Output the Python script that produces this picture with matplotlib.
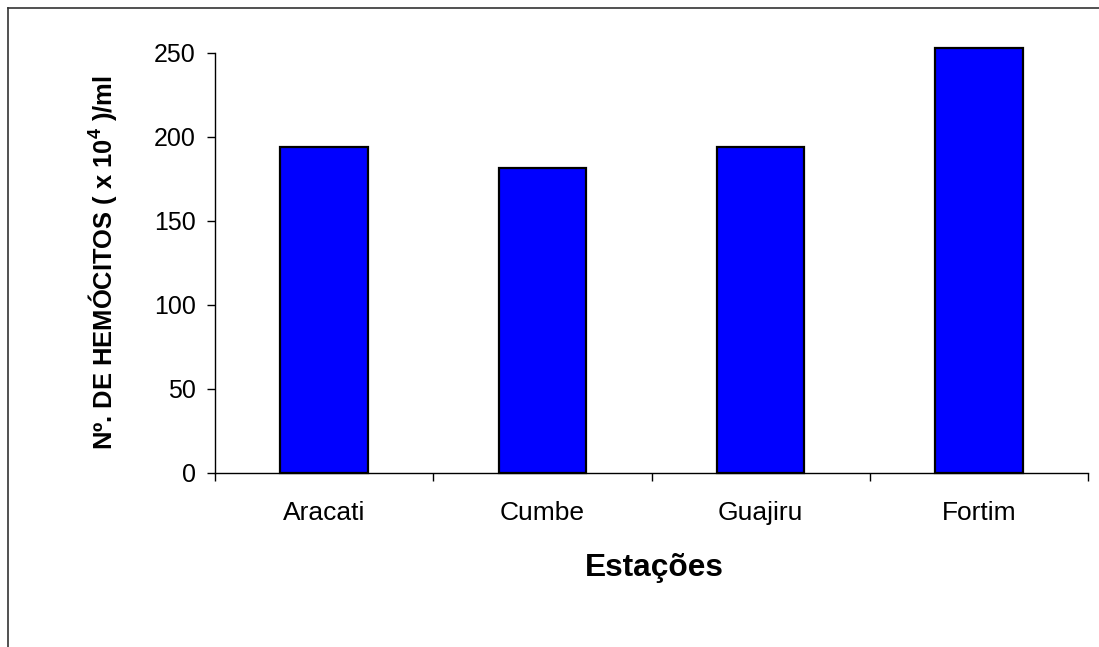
import matplotlib.pyplot as plt
from matplotlib.lines import Line2D

plt.rcParams['font.family'] = ['Liberation Sans', 'DejaVu Sans']
plt.rcParams['mathtext.fontset'] = 'custom'
plt.rcParams['mathtext.rm'] = 'Liberation Sans:bold'
plt.rcParams['mathtext.bf'] = 'Liberation Sans:bold'

estacoes = ["Aracati", "Cumbe", "Guajiru", "Fortim"]
hemocitos = [194, 181.5, 194, 253]
yticks = [0, 50, 100, 150, 200, 250]

fig = plt.figure(figsize=(10.99, 6.47), dpi=100)
ax = fig.add_axes([215/1099, 1 - 473/647, (1088 - 215)/1099, (473 - 53)/647])

x = list(range(len(estacoes)))
ax.bar(x, hemocitos, width=0.40, color="#0000FF", edgecolor="black",
       linewidth=1.6, clip_on=False, zorder=3)

ax.set_xlim(-0.5, len(estacoes) - 0.5)
ax.set_ylim(0, 250)
ax.set_yticks(yticks)
ax.set_xticks(x)
ax.set_xticklabels(estacoes, fontsize=19)
ax.set_xticks([i - 0.5 for i in range(len(estacoes) + 1)], minor=True)
ax.tick_params(axis='x', which='major', length=0, pad=20)
ax.tick_params(axis='x', which='minor', length=6, width=1, direction='out')
ax.tick_params(axis='y', length=6, width=1, direction='out', pad=8, labelsize=18)

for s in ['top', 'right']:
    ax.spines[s].set_visible(False)
for s in ['left', 'bottom']:
    ax.spines[s].set_linewidth(1)

fig.text(654/1099, 1 - 568/647, "Estações", ha='center', va='center',
         fontsize=22.8, fontweight='bold')
fig.text(103/1099, 1 - 263/647, r"Nº. DE HEMÓCITOS ( x 10$^4$ )/ml",
         ha='center', va='center', rotation=90, fontsize=18.4, fontweight='bold')

# moldura do gráfico (só topo e esquerda)
fig.add_artist(Line2D([8/1099, 8/1099], [0, 1 - 8/647], color='#333333', lw=1.2))
fig.add_artist(Line2D([8/1099, 1], [1 - 8/647, 1 - 8/647], color='#333333', lw=1.2))

fig.savefig("out.png", dpi=100)
